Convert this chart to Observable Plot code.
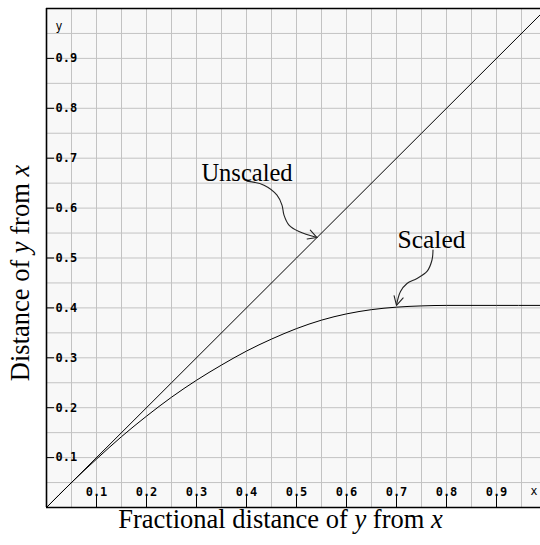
<!DOCTYPE html>
<html><head><meta charset="utf-8">
<script src="https://cdn.jsdelivr.net/npm/d3@7"></script>
<script src="https://cdn.jsdelivr.net/npm/@observablehq/plot@0.6"></script>
<style>body{margin:0;background:#fff} svg{display:block}</style>
</head><body><div id="chart"></div>
<script>
// Data
const unscaledX = [0, 0.25, 0.5, 0.75, 0.988];
const unscaledY = [0, 0.25, 0.5, 0.75, 0.988];
const scaledX = [0, 0.05, 0.1, 0.15, 0.2, 0.25, 0.3, 0.35, 0.4, 0.45, 0.5, 0.55, 0.6, 0.65, 0.7, 0.75, 0.8, 0.9, 0.988];
const scaledY = [0, 0.05, 0.097, 0.142, 0.183, 0.221, 0.255, 0.2855, 0.3135, 0.3375, 0.3585, 0.3755, 0.388, 0.3965, 0.4015, 0.404, 0.405, 0.405, 0.405];
const tickValues = [0.1, 0.2, 0.3, 0.4, 0.5, 0.6, 0.7, 0.8, 0.9];
const tickLabels = ["0.1", "0.2", "0.3", "0.4", "0.5", "0.6", "0.7", "0.8", "0.9"];
const gridValues = [0.05, 0.1, 0.15, 0.2, 0.25, 0.3, 0.35, 0.4, 0.45, 0.5, 0.55, 0.6, 0.65, 0.7, 0.75, 0.8, 0.85, 0.9, 0.95];
const seriesNames = ["Unscaled", "Scaled"];
const xTitle = "Fractional distance of y from x";
const yTitle = "Distance of y from x";

// Annotation arrow paths (data coordinates)
const unscaledArrowX = [0.401, 0.435, 0.461, 0.471, 0.475, 0.485, 0.505, 0.541];
const unscaledArrowY = [0.654, 0.646, 0.626, 0.606, 0.586, 0.566, 0.553, 0.541];
const scaledArrowX = [0.773, 0.771, 0.761, 0.741, 0.721, 0.708, 0.700];
const scaledArrowY = [0.516, 0.496, 0.473, 0.459, 0.449, 0.433, 0.406];

const serif = "'Liberation Serif', 'Times New Roman', serif";
const mono = "'DejaVu Sans Mono', monospace";
const gridColor = "#c3c3c3";
const unitPx = (540 - 46) / 0.988; // pixels per data unit (same on both axes)

// open arrowhead (wing, tip, wing) around a tip, direction given in screen degrees
function head(tx, ty, deg, len, half) {
  const pts = [];
  for (const s of [-1, 0, 1]) {
    if (s === 0) { pts.push([tx, ty]); continue; }
    const a = (deg + s * half) * Math.PI / 180;
    pts.push([tx - len * Math.cos(a) / unitPx, ty + len * Math.sin(a) / unitPx]);
  }
  return pts;
}
const unscaledHead = head(0.541, 0.541, 20, 10, 28);
const scaledHead = head(0.700, 0.405, 104, 10, 28);

const plot = Plot.plot({
  width: 540, height: 545,
  marginLeft: 46, marginRight: 0, marginTop: 8, marginBottom: 38,
  x: {domain: [0, 0.988], axis: null},
  y: {domain: [0, 1], axis: null},
  style: {background: "white", overflow: "visible"},
  marks: [
    Plot.frame({fill: "#f8f8f8", stroke: "none"}),
    Plot.ruleX(gridValues, {x: d => d, stroke: gridColor, strokeWidth: 1}),
    Plot.ruleY(gridValues, {y: d => d, stroke: gridColor, strokeWidth: 1}),
    Plot.ruleX([0], {x: d => d, stroke: "black", strokeWidth: 1.6}),
    Plot.ruleY([0], {y: d => d, stroke: "black", strokeWidth: 1.4}),
    Plot.ruleY([1], {y: d => d, stroke: "black", strokeWidth: 1.6}),
    Plot.tickY(tickValues, {y: d => d, stroke: "black", insetRight: 494 - 8}),
    Plot.tickX(tickValues, {x: d => d, stroke: "black", insetTop: 499 - 12}),
    Plot.text(tickLabels, {y: (d, i) => tickValues[i], text: d => d, frameAnchor: "left", dx: 9, textAnchor: "start",
      fontFamily: mono, fontWeight: "bold", fontSize: 12, fill: "black"}),
    Plot.text(tickLabels, {x: (d, i) => tickValues[i], text: d => d, frameAnchor: "bottom", dy: -12, textAnchor: "middle",
      fontFamily: mono, fontWeight: "bold", fontSize: 12, fill: "black"}),
    Plot.text(["y"], {text: d => d, frameAnchor: "top-left", dx: 9, dy: 13, textAnchor: "start", fontFamily: mono, fontSize: 11.5, fill: "black"}),
    Plot.text(["x"], {text: d => d, frameAnchor: "bottom-right", dx: -3, dy: -13, textAnchor: "end", fontFamily: mono, fontSize: 11.5, fill: "black"}),
    // series
    Plot.line(unscaledX, {x: d => d, y: (d, i) => unscaledY[i], stroke: "black", strokeWidth: 1}),
    Plot.line(scaledX, {x: d => d, y: (d, i) => scaledY[i], stroke: "black", strokeWidth: 1, curve: "monotone-x"}),
    // annotations
    Plot.line(unscaledArrowX, {x: d => d, y: (d, i) => unscaledArrowY[i], stroke: "#222", strokeWidth: 1.1, curve: "catmull-rom"}),
    Plot.line(unscaledHead, {x: d => d[0], y: d => d[1], stroke: "#222", strokeWidth: 1.1}),
    Plot.line(scaledArrowX, {x: d => d, y: (d, i) => scaledArrowY[i], stroke: "#222", strokeWidth: 1.1, curve: "catmull-rom"}),
    Plot.line(scaledHead, {x: d => d[0], y: d => d[1], stroke: "#222", strokeWidth: 1.1}),
    Plot.text([seriesNames[0]], {x: () => 0.401, y: () => 0.670, text: d => d, fontFamily: serif, fontSize: 24.5, fill: "black"}),
    Plot.text([seriesNames[1]], {x: () => 0.770, y: () => 0.536, text: d => d, fontFamily: serif, fontSize: 25.5, fill: "black"}),
    // axis titles
    Plot.text([xTitle], {text: d => d, frameAnchor: "bottom", dx: -13, dy: 20.5, textAnchor: "middle", fontFamily: serif, fontSize: 26.5, fill: "black"}),
    Plot.text([yTitle], {text: d => d, frameAnchor: "left", dx: -26, dy: 15, rotate: -90, textAnchor: "middle", fontFamily: serif, fontSize: 26.5, fill: "black"})
  ]
});

function italicize(svg, content) {
  svg.querySelectorAll("text").forEach(t => {
    if (t.textContent === content) {
      t.innerHTML = content
        .replace(/ y /, ' <tspan font-style="italic">y</tspan> ')
        .replace(/ x$/, ' <tspan font-style="italic">x</tspan>');
    }
  });
}
italicize(plot, xTitle);
italicize(plot, yTitle);
document.getElementById("chart").appendChild(plot);
</script>
</body></html>
